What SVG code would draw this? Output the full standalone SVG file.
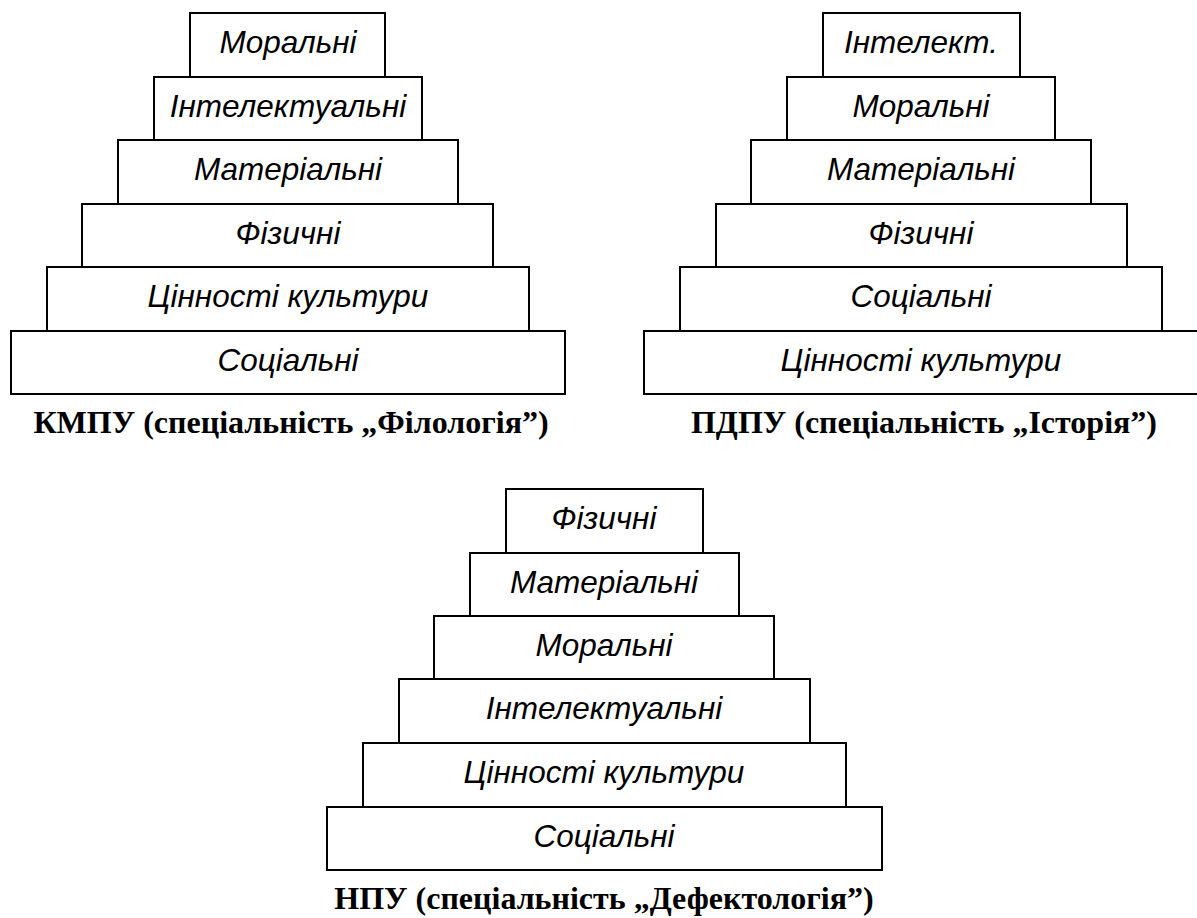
<svg xmlns="http://www.w3.org/2000/svg" width="1197" height="918" viewBox="0 0 1197 918">
<style>
.b{fill:#fff;stroke:#000;stroke-width:2}
.t{font-family:"Liberation Sans",Arial,sans-serif;font-style:italic;font-size:31.5px;text-anchor:middle;fill:#000}
.c{font-family:"Liberation Serif","Times New Roman",serif;font-weight:bold;font-size:32px;text-anchor:middle;fill:#000}
</style>
<rect width="1197" height="918" fill="#fff"/>
<g id="pyramid1">
<g id="p1-n1"><rect class="b" x="190" y="13" width="195" height="64"/><text class="t" x="288" y="53">Моральні</text></g>
<g id="p1-n2"><rect class="b" x="154" y="77" width="268" height="63"/><text class="t" x="288" y="117">Інтелектуальні</text></g>
<g id="p1-n3"><rect class="b" x="118" y="140" width="340" height="64"/><text class="t" x="288" y="180">Матеріальні</text></g>
<g id="p1-n4"><rect class="b" x="82" y="204" width="411" height="63"/><text class="t" x="288" y="244">Фізичні</text></g>
<g id="p1-n5"><rect class="b" x="47" y="267" width="482" height="64"/><text class="t" x="288" y="307">Цінності культури</text></g>
<g id="p1-n6"><rect class="b" x="11" y="331" width="554" height="63"/><text class="t" x="288" y="371">Соціальні</text></g>
<text id="p1-caption" class="c" x="291" y="433">КМПУ (спеціальність „Філологія”)</text>
</g>
<g id="pyramid2">
<g id="p2-n1"><rect class="b" x="823" y="13" width="197" height="64"/><text class="t" x="921" y="53">Інтелект.</text></g>
<g id="p2-n2"><rect class="b" x="787" y="77" width="268" height="63"/><text class="t" x="921" y="117">Моральні</text></g>
<g id="p2-n3"><rect class="b" x="751" y="140" width="340" height="64"/><text class="t" x="921" y="180">Матеріальні</text></g>
<g id="p2-n4"><rect class="b" x="716" y="204" width="411" height="63"/><text class="t" x="921" y="244">Фізичні</text></g>
<g id="p2-n5"><rect class="b" x="680" y="267" width="482" height="64"/><text class="t" x="921" y="307">Соціальні</text></g>
<g id="p2-n6"><rect class="b" x="644" y="331" width="556" height="63"/><text class="t" x="921" y="371">Цінності культури</text></g>
<text id="p2-caption" class="c" x="924" y="433">ПДПУ (спеціальність „Історія”)</text>
</g>
<g id="pyramid3">
<g id="p3-n1"><rect class="b" x="506" y="489" width="197" height="64"/><text class="t" x="604" y="529">Фізичні</text></g>
<g id="p3-n2"><rect class="b" x="470" y="553" width="269" height="63"/><text class="t" x="604" y="593">Матеріальні</text></g>
<g id="p3-n3"><rect class="b" x="434" y="616" width="340" height="63"/><text class="t" x="604" y="656">Моральні</text></g>
<g id="p3-n4"><rect class="b" x="399" y="679" width="411" height="64"/><text class="t" x="604" y="719">Інтелектуальні</text></g>
<g id="p3-n5"><rect class="b" x="363" y="743" width="483" height="64"/><text class="t" x="604" y="783">Цінності культури</text></g>
<g id="p3-n6"><rect class="b" x="327" y="807" width="555" height="63"/><text class="t" x="604" y="847">Соціальні</text></g>
<text id="p3-caption" class="c" x="604" y="909">НПУ (спеціальність „Дефектологія”)</text>
</g>
<g id="connectors"/>
</svg>
